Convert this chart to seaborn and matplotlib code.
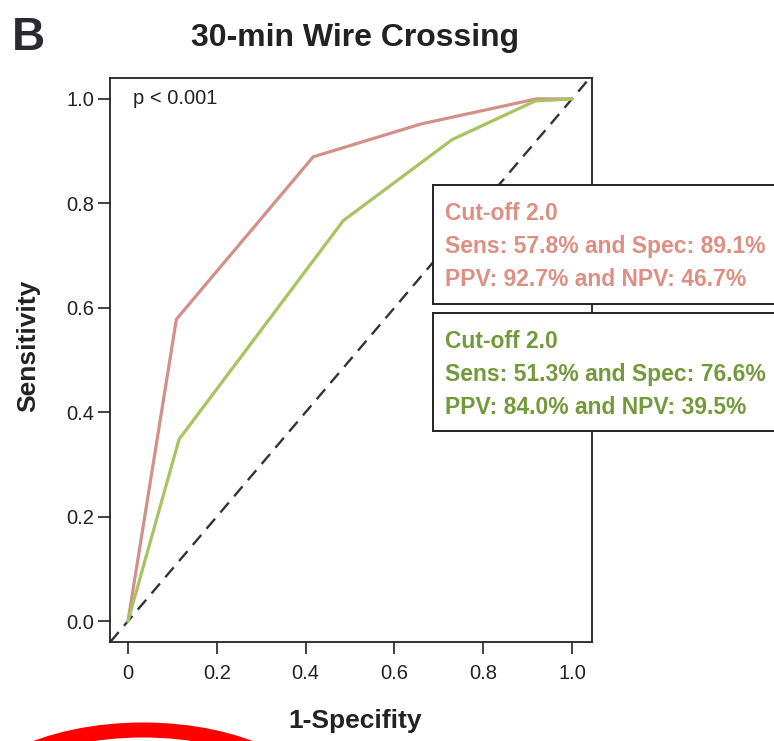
import numpy as np
import pandas as pd
import matplotlib
matplotlib.use("Agg")
import matplotlib.pyplot as plt
from matplotlib.patches import Rectangle, Ellipse
import seaborn as sns

# ---- data ----
red_fpr = [0.0, 0.109, 0.417, 0.66, 0.92, 1.0]
red_tpr = [0.0, 0.578, 0.889, 0.952, 1.0, 1.0]
green_fpr = [0.0, 0.115, 0.485, 0.73, 0.917, 1.0]
green_tpr = [0.0, 0.348, 0.767, 0.922, 0.996, 1.0]
series_names = ["red", "green"]
x_ticks = [0.0, 0.2, 0.4, 0.6, 0.8, 1.0]
x_tick_labels = ["0", "0.2", "0.4", "0.6", "0.8", "1.0"]
y_ticks = [0.0, 0.2, 0.4, 0.6, 0.8, 1.0]
y_tick_labels = ["0.0", "0.2", "0.4", "0.6", "0.8", "1.0"]
red_box_lines = ["Cut-off 2.0", "Sens: 57.8% and Spec: 89.1%", "PPV: 92.7% and NPV: 46.7%"]
green_box_lines = ["Cut-off 2.0", "Sens: 51.3% and Spec: 76.6%", "PPV: 84.0% and NPV: 39.5%"]

df = pd.concat([
    pd.DataFrame({"fpr": red_fpr, "tpr": red_tpr, "model": series_names[0]}),
    pd.DataFrame({"fpr": green_fpr, "tpr": green_tpr, "model": series_names[1]}),
])

sns.set_theme(style="ticks")
plt.rcParams["font.family"] = ["Liberation Sans", "DejaVu Sans"]

W, H = 774, 741
DPI = 100
fig = plt.figure(figsize=(W / DPI, H / DPI), dpi=DPI)

def fx(px):
    return px / W

def fy(py):
    return 1 - py / H

ax_left, ax_right, ax_top, ax_bottom = 110, 592, 78, 642
ax = fig.add_axes([fx(ax_left), fy(ax_bottom), (ax_right - ax_left) / W, (ax_bottom - ax_top) / H])

line_red = "#D29089"
line_green = "#A6C460"
text_red = "#DC8F82"
text_green = "#739A3A"

ax.set_xlim(-0.0405, 1.045)
ax.set_ylim(-0.04, 1.04)

ax.axline((0, 0), slope=1, color="#333333", lw=1.7, ls=(0, (5.5, 3.5)), zorder=1)

sns.lineplot(data=df, x="fpr", y="tpr", hue="model", palette={"red": line_red, "green": line_green},
             sort=False, estimator=None, units="model", legend=False, lw=2.3, ax=ax, zorder=3)

ax.set_xticks(x_ticks)
ax.set_xticklabels(x_tick_labels)
ax.set_yticks(y_ticks)
ax.set_yticklabels(y_tick_labels)
ax.tick_params(axis="both", direction="out", length=8.5, width=1.2, color="#222222",
               labelsize=14.5, labelcolor="#222222")
ax.tick_params(axis="x", pad=7)
ax.tick_params(axis="y", pad=3)
for s in ax.spines.values():
    s.set_linewidth(1.3)
    s.set_color("#222222")
ax.set_xlabel("")
ax.set_ylabel("")

ax.text(0.012, 1.0, "p < 0.001", fontsize=14.5, color="#222222", va="center", ha="left")

# titles / labels
fig.text(fx(12), fy(38), "B", fontsize=33, fontweight="bold", color="#2a2a30", ha="left", va="center")
fig.text(fx(355), fy(38), "30-min Wire Crossing", fontsize=23, fontweight="bold", color="#222222",
         ha="center", va="center")
fig.text(fx(355), fy(721), "1-Specifity", fontsize=19, fontweight="bold", color="#222222",
         ha="center", va="center")
fig.text(fx(28), fy(346), "Sensitivity", fontsize=19, fontweight="bold", color="#222222",
         ha="center", va="center", rotation=90)

# info boxes
for (y0, y1, lines, col, ys) in [
    (185, 304, red_box_lines, text_red, [213, 246, 279]),
    (313, 431, green_box_lines, text_green, [341, 374, 407]),
]:
    rect = Rectangle((fx(433), fy(y1)), (800 - 433) / W, (y1 - y0) / H, transform=fig.transFigure,
                     facecolor="white", edgecolor="#222222", lw=1.4, zorder=5)
    fig.add_artist(rect)
    for t, yy in zip(lines, ys):
        fig.text(fx(445), fy(yy), t, fontsize=16.5, fontweight="bold", color=col,
                 ha="left", va="center", zorder=6)

# red annotation arc
ell = Ellipse((fx(143), fy(822)), 360 / W, 184 / H, transform=fig.transFigure,
              facecolor="none", edgecolor="#FF0000", lw=10.8, zorder=7)
fig.add_artist(ell)

fig.savefig("out.png", dpi=DPI)
